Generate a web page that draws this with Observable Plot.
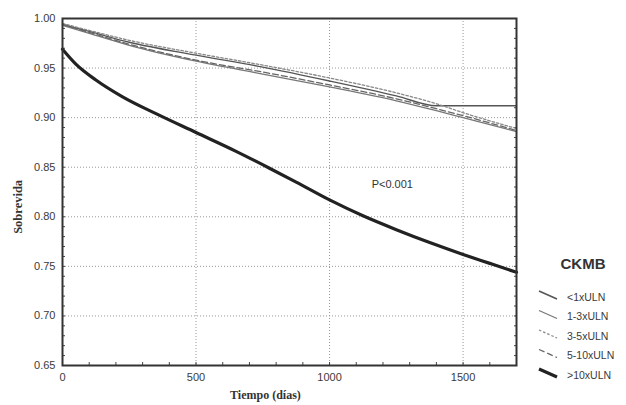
<!DOCTYPE html>
<html>
<head>
<meta charset="utf-8">
<script src="https://cdn.jsdelivr.net/npm/d3@7"></script>
<script src="https://cdn.jsdelivr.net/npm/@observablehq/plot@0.6"></script>
<style>
  html, body { margin: 0; padding: 0; background: #fff; }
  #chart { width: 626px; height: 405px; }
</style>
</head>
<body>
<div id="chart"></div>
<script>
// ---- data ----
const seriesNames = ["<1xULN", "1-3xULN", "3-5xULN", "5-10xULN", ">10xULN"];
const timeLow = [0, 100, 250, 500, 750, 1000, 1250, 1400, 1500, 1700];
const survLt1  = [0.994, 0.987, 0.976, 0.963, 0.951, 0.937, 0.922, 0.912, 0.912, 0.912];
const surv1to3 = [0.993, 0.985, 0.973, 0.957, 0.944, 0.931, 0.917, 0.907, 0.900, 0.886];
const surv3to5 = [0.995, 0.988, 0.978, 0.965, 0.953, 0.940, 0.925, 0.914, 0.905, 0.889];
const surv5to10 = [0.994, 0.986, 0.974, 0.958, 0.946, 0.933, 0.919, 0.909, 0.902, 0.887];
const timeHigh = [0, 50, 125, 225, 350, 500, 650, 775, 875, 1000, 1125, 1250, 1375, 1500, 1600, 1700];
const survGt10 = [0.969, 0.954, 0.938, 0.921, 0.904, 0.885, 0.866, 0.849, 0.835, 0.817, 0.801, 0.787, 0.774, 0.762, 0.753, 0.744];
const xTicks = [0, 500, 1000, 1500];
const yTicks = [0.65, 0.70, 0.75, 0.80, 0.85, 0.90, 0.95, 1.00];
const xLabel = "Tiempo (días)";
const yLabel = "Sobrevida";
const legendTitle = "CKMB";
const pText = "P<0.001";
const pPos = {t: 1235, s: 0.833};

// ---- build tables ----
const mk = (name, ts, vs) => ts.map((t, i) => ({series: name, t, s: vs[i]}));
const dLt1 = mk(seriesNames[0], timeLow, survLt1);
const d1to3 = mk(seriesNames[1], timeLow, surv1to3);
const d3to5 = mk(seriesNames[2], timeLow, surv3to5);
const d5to10 = mk(seriesNames[3], timeLow, surv5to10);
const dGt10 = mk(seriesNames[4], timeHigh, survGt10);

const styles = {
  "<1xULN":   {stroke: "#555", strokeWidth: 1.4, dash: null},
  "1-3xULN":  {stroke: "#777", strokeWidth: 1.3, dash: null},
  "3-5xULN":  {stroke: "#888", strokeWidth: 1.3, dash: "2.5,2"},
  "5-10xULN": {stroke: "#666", strokeWidth: 1.3, dash: "6,3"},
  ">10xULN":  {stroke: "#222", strokeWidth: 3.2, dash: null}
};
const lineMark = (data) => {
  const st = styles[data[0].series];
  return Plot.line(data, {x: "t", y: "s", curve: "monotone-x",
    stroke: st.stroke, strokeWidth: st.strokeWidth, strokeDasharray: st.dash});
};

const minorX = d3.range(0, 1701, 100);
const minorY = d3.range(65, 101, 1).map(v => v / 100);

const plot = Plot.plot({
  width: 626,
  height: 405,
  marginLeft: 62,
  marginRight: 110,
  marginTop: 18,
  marginBottom: 40,
  style: {fontFamily: "'Liberation Sans', Arial, sans-serif", fontSize: "11px", color: "#3a3a3a", background: "#fff"},
  x: {domain: [0, 1700]},
  y: {domain: [0.65, 1.0]},
  marks: [
    Plot.gridX(xTicks.slice(1), {stroke: "#999", strokeOpacity: 1, strokeDasharray: "1,2"}),
    Plot.gridY(yTicks.slice(1, -1), {stroke: "#999", strokeOpacity: 1, strokeDasharray: "1,2"}),
    Plot.axisX(minorX, {tickSize: -3, tickFormat: () => "", label: null, stroke: "#444"}),
    Plot.axisY(minorY, {tickSize: -3, tickFormat: () => "", label: null, stroke: "#444"}),
    Plot.axisY(minorY, {anchor: "right", tickSize: -3, tickFormat: () => "", label: null, stroke: "#444"}),
    Plot.axisX(xTicks, {tickSize: 0, tickPadding: 8, tickFormat: d3.format("d"), label: null, fontSize: 11}),
    Plot.axisY(yTicks, {tickSize: 0, tickPadding: 7, tickFormat: d3.format(".2f"), label: null, fontSize: 11}),
    lineMark(dLt1),
    lineMark(d1to3),
    lineMark(d3to5),
    lineMark(d5to10),
    lineMark(dGt10),
    Plot.frame({stroke: "#333", strokeWidth: 2}),
    Plot.text([pText], {x: () => pPos.t, y: () => pPos.s, text: d => d, fontSize: 11, fill: "#333"}),
    Plot.text([xLabel], {x: () => 760, frameAnchor: "bottom", dy: 33, text: d => d,
      fontFamily: "'Liberation Serif', 'DejaVu Serif', serif", fontWeight: "bold", fontSize: 12, fill: "#333"}),
    Plot.text([yLabel], {y: () => 0.81, frameAnchor: "left", dx: -45, rotate: -90, textAnchor: "middle", text: d => d,
      fontFamily: "'Liberation Serif', 'DejaVu Serif', serif", fontWeight: "bold", fontSize: 12.5, fill: "#333"})
  ]
});
document.getElementById("chart").appendChild(plot);

// ---- legend (right side) ----
const svg = d3.select(plot);
const lg = svg.append("g").attr("font-family", "'Liberation Sans', Arial, sans-serif");
lg.append("text").attr("x", 583).attr("y", 269).attr("text-anchor", "middle")
  .attr("font-size", 15).attr("font-weight", "bold").attr("fill", "#333").text(legendTitle);
seriesNames.forEach((name, i) => {
  const y = 297 + i * 19.5;
  const st = styles[name];
  lg.append("line").attr("x1", 539).attr("y1", y - 6).attr("x2", 557).attr("y2", y + 2)
    .attr("stroke", st.stroke).attr("stroke-width", st.strokeWidth)
    .attr("stroke-dasharray", st.dash);
  lg.append("text").attr("x", 567).attr("y", y).attr("dy", "0.35em").attr("text-anchor", "start")
    .attr("font-size", 10.5).attr("fill", "#3a3a3a").text(name);
});
</script>
</body>
</html>
